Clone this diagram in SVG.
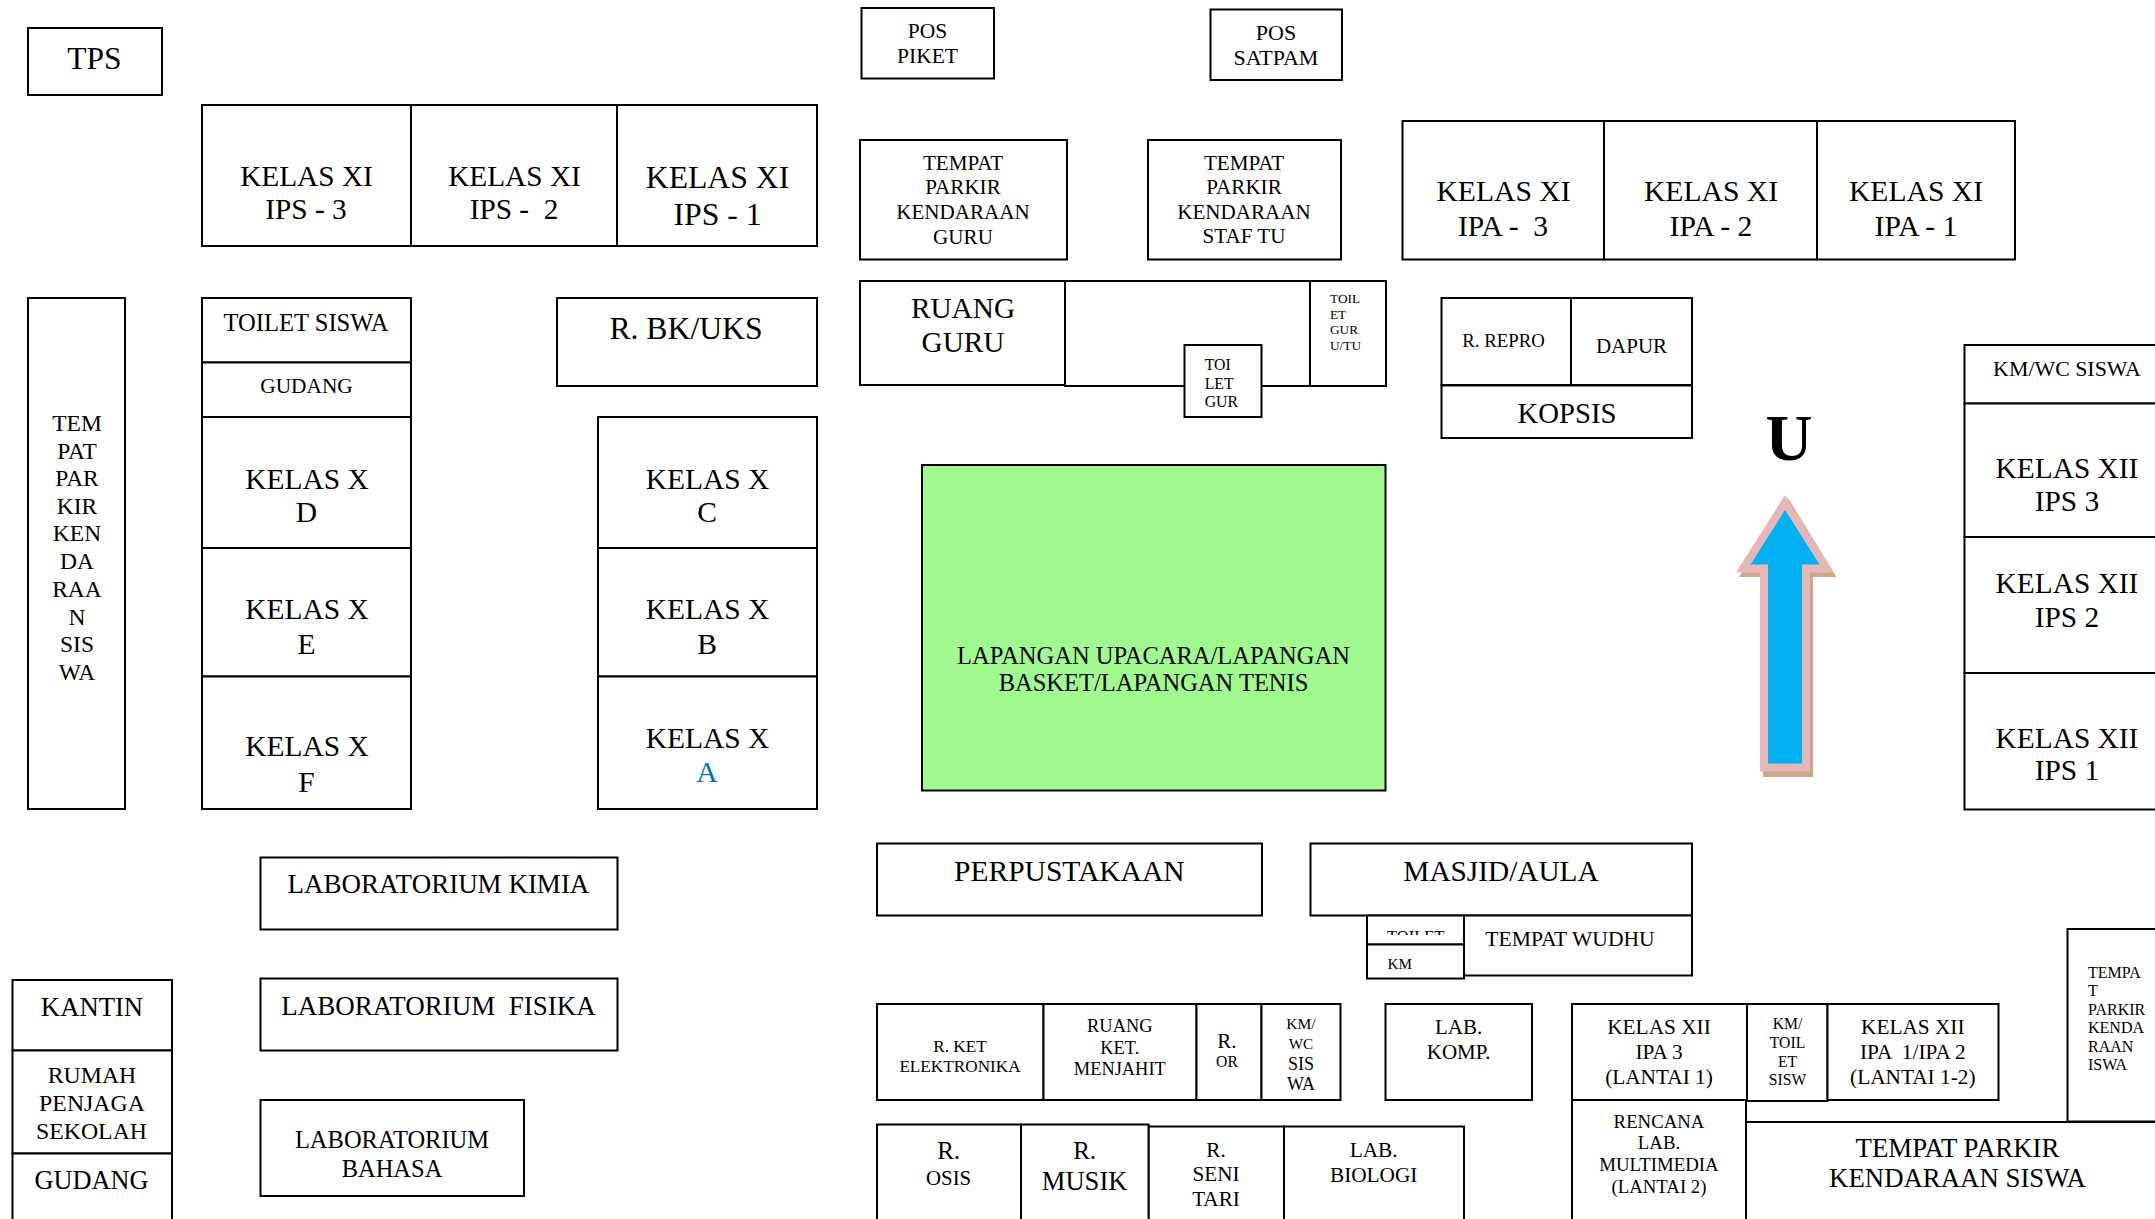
<svg xmlns="http://www.w3.org/2000/svg" width="2155" height="1219" viewBox="0 0 2155 1219">
<style>
rect{fill:#fff;stroke:#000;stroke-width:2}
text{font-family:"Liberation Serif","Times New Roman",serif;fill:#000;text-anchor:middle;white-space:pre}
.l{text-anchor:start}
</style>
<defs><clipPath id="clipToilet"><rect x="1368" y="916" width="95" height="19"/></clipPath></defs>
<rect x="0" y="0" width="2155" height="1219" style="stroke:none"/>
<g id="tps"><rect x="28" y="28" width="134" height="67"/><text x="94.500" y="69" font-size="31.500">TPS</text></g>
<g id="xi-ips-3"><rect x="202" y="105" width="209" height="141"/><text font-size="29.300"><tspan x="306.500" y="186">KELAS XI</tspan><tspan x="306" y="219">IPS - 3</tspan></text></g>
<g id="xi-ips-2"><rect x="411" y="105" width="206" height="141"/><text font-size="29.300"><tspan x="514.500" y="186">KELAS XI</tspan><tspan x="514" y="219">IPS -  2</tspan></text></g>
<g id="xi-ips-1"><rect x="617" y="105" width="200" height="141"/><text font-size="31.700"><tspan x="717.500" y="188">KELAS XI</tspan><tspan x="717.500" y="225">IPS - 1</tspan></text></g>
<g id="parkir-siswa-kiri"><rect x="28" y="298" width="97" height="511"/><text font-size="23.500"><tspan x="77" y="431">TEM</tspan><tspan x="77" y="458.500">PAT</tspan><tspan x="77" y="486">PAR</tspan><tspan x="77" y="513.500">KIR</tspan><tspan x="77" y="541">KEN</tspan><tspan x="77" y="568.500">DA</tspan><tspan x="77" y="596.500">RAA</tspan><tspan x="77" y="625">N</tspan><tspan x="77" y="652">SIS</tspan><tspan x="77" y="680">WA</tspan></text></g>
<g id="toilet-siswa"><rect x="202" y="298" width="209" height="64.500"/><text x="306" y="331" font-size="24.600">TOILET SISWA</text></g>
<g id="gudang-1"><rect x="202" y="362.500" width="209" height="54.500"/><text x="306.500" y="393" font-size="21.300">GUDANG</text></g>
<g id="x-d"><rect x="202" y="417" width="209" height="131"/><text font-size="29.500"><tspan x="307" y="488.500">KELAS X</tspan><tspan x="306.500" y="522">D</tspan></text></g>
<g id="x-e"><rect x="202" y="548" width="209" height="128.500"/><text font-size="29.500"><tspan x="307" y="619">KELAS X</tspan><tspan x="306.500" y="654">E</tspan></text></g>
<g id="x-f"><rect x="202" y="676.500" width="209" height="132.500"/><text font-size="29.500"><tspan x="307" y="756">KELAS X</tspan><tspan x="306.500" y="792">F</tspan></text></g>
<g id="bk-uks"><rect x="557" y="298" width="260" height="88"/><text x="686" y="339" font-size="31.700">R. BK/UKS</text></g>
<g id="x-c"><rect x="598" y="417" width="219" height="131"/><text font-size="29.500"><tspan x="707.500" y="488.500">KELAS X</tspan><tspan x="707" y="522">C</tspan></text></g>
<g id="x-b"><rect x="598" y="548" width="219" height="128.500"/><text font-size="29.500"><tspan x="707.500" y="619">KELAS X</tspan><tspan x="707" y="654">B</tspan></text></g>
<g id="x-a"><rect x="598" y="676.500" width="219" height="132.500"/><text font-size="29.500"><tspan x="707.500" y="748">KELAS X</tspan><tspan x="707" y="781.500" style="fill:#0070c0">A</tspan></text></g>
<g id="pos-piket"><rect x="861.500" y="8" width="132.500" height="70.500"/><text font-size="21.500"><tspan x="927.500" y="37.700">POS</tspan><tspan x="927.500" y="62.700">PIKET</tspan></text></g>
<g id="pos-satpam"><rect x="1210.500" y="9.500" width="131.500" height="70.500"/><text font-size="22"><tspan x="1276" y="40">POS</tspan><tspan x="1276" y="65">SATPAM</tspan></text></g>
<g id="parkir-guru"><rect x="860" y="140" width="207" height="119.500"/><text font-size="21.100"><tspan x="963" y="170">TEMPAT</tspan><tspan x="963" y="194">PARKIR</tspan><tspan x="963" y="219">KENDARAAN</tspan><tspan x="963" y="244">GURU</tspan></text></g>
<g id="parkir-staf"><rect x="1148" y="140" width="193" height="119.500"/><text font-size="21.100"><tspan x="1244" y="170">TEMPAT</tspan><tspan x="1244" y="194">PARKIR</tspan><tspan x="1244" y="219">KENDARAAN</tspan><tspan x="1244" y="243">STAF TU</tspan></text></g>
<g id="xi-ipa-3"><rect x="1402.500" y="121" width="201.500" height="138.500"/><text font-size="29.600"><tspan x="1503.500" y="201">KELAS XI</tspan><tspan x="1503" y="235.500">IPA -  3</tspan></text></g>
<g id="xi-ipa-2"><rect x="1604" y="121" width="213" height="138.500"/><text font-size="29.600"><tspan x="1711" y="201">KELAS XI</tspan><tspan x="1711" y="235.500">IPA - 2</tspan></text></g>
<g id="xi-ipa-1"><rect x="1817" y="121" width="198" height="138.500"/><text font-size="29.600"><tspan x="1916" y="201">KELAS XI</tspan><tspan x="1916" y="235.500">IPA - 1</tspan></text></g>
<g id="ruang-guru"><rect x="860" y="281" width="205" height="104"/><text font-size="29.300"><tspan x="963" y="317.700">RUANG</tspan><tspan x="963" y="351.700">GURU</tspan></text></g>
<g id="ruang-tengah"><rect x="1065" y="281" width="245" height="105"/></g>
<g id="toilet-guru-tu"><rect x="1310" y="281" width="76" height="105"/><text class="l" font-size="13.300"><tspan x="1330" y="302.800">TOIL</tspan><tspan x="1330" y="318.500">ET</tspan><tspan x="1330" y="334">GUR</tspan><tspan x="1330" y="349.500">U/TU</tspan></text></g>
<g id="toilet-guru"><rect x="1184.500" y="345" width="77" height="72"/><text class="l" font-size="15.800"><tspan x="1204.700" y="370">TOI</tspan><tspan x="1204.700" y="389">LET</tspan><tspan x="1204.700" y="407">GUR</tspan></text></g>
<g id="repro"><rect x="1441.500" y="298" width="129.500" height="87"/><text x="1503.500" y="347" font-size="18.800">R. REPRO</text></g>
<g id="dapur"><rect x="1571" y="298" width="121" height="87"/><text x="1631.500" y="353" font-size="21">DAPUR</text></g>
<g id="kopsis"><rect x="1441.500" y="385.500" width="250.500" height="52.500"/><text x="1567" y="422.500" font-size="28.700">KOPSIS</text></g>
<g id="km-wc-siswa"><rect x="1964.500" y="345" width="200" height="58.500"/><text x="2067" y="376" font-size="21.900">KM/WC SISWA</text></g>
<g id="xii-ips-3"><rect x="1964.500" y="403.500" width="200" height="133.500"/><text font-size="29.400"><tspan x="2067" y="477.700">KELAS XII</tspan><tspan x="2067" y="510.700">IPS 3</tspan></text></g>
<g id="xii-ips-2"><rect x="1964.500" y="537" width="200" height="136"/><text font-size="29.400"><tspan x="2067" y="592.700">KELAS XII</tspan><tspan x="2067" y="627.300">IPS 2</tspan></text></g>
<g id="xii-ips-1"><rect x="1964.500" y="673" width="200" height="136.500"/><text font-size="29.400"><tspan x="2067" y="747.700">KELAS XII</tspan><tspan x="2067" y="780.300">IPS 1</tspan></text></g>
<g id="lapangan"><rect x="922" y="465" width="463.500" height="325.500" style="fill:#a0fa90"/><text font-size="24.500"><tspan x="1153.500" y="663.500">LAPANGAN UPACARA/LAPANGAN</tspan><tspan x="1153.500" y="691">BASKET/LAPANGAN TENIS</tspan></text></g>
<g id="utara">
<text x="1789" y="460" font-size="65" font-weight="bold">U</text>
<path d="M1788 498L1836.500 577H1813V777H1763V577H1739Z" fill="#cda78a"/>
<path d="M1785 495L1833.500 572.500H1810V771.500H1760V572.500H1736Z" fill="#e5b8b7"/>
<path d="M1785 510L1819.500 564.500H1802V763.500H1768V564.500H1750.500Z" fill="#00b0f0"/>
</g>
<g id="perpustakaan"><rect x="877" y="843.500" width="385" height="72"/><text x="1069.300" y="881" font-size="29.500">PERPUSTAKAAN</text></g>
<g id="masjid"><rect x="1310.500" y="843.500" width="381.500" height="72"/><text x="1501" y="880.700" font-size="29.300">MASJID/AULA</text></g>
<g id="wudhu"><rect x="1464" y="915.500" width="228" height="60"/><text x="1570" y="945.700" font-size="21.600">TEMPAT WUDHU</text></g>
<g id="toilet-masjid"><rect x="1367" y="915.500" width="97" height="29"/><text class="l" x="1387" y="941.600" font-size="16.500" clip-path="url(#clipToilet)">TOILET</text></g>
<g id="km-masjid"><rect x="1367" y="944.500" width="97" height="34"/><text class="l" x="1387.500" y="968.700" font-size="15.200">KM</text></g>
<g id="lab-kimia"><rect x="260.500" y="857.500" width="357" height="72"/><text x="438.500" y="892.700" font-size="27">LABORATORIUM KIMIA</text></g>
<g id="lab-fisika"><rect x="260.500" y="978.500" width="357" height="72"/><text x="438.500" y="1015" font-size="27">LABORATORIUM  FISIKA</text></g>
<g id="lab-bahasa"><rect x="260.500" y="1100" width="263.500" height="96"/><text font-size="24.500"><tspan x="392" y="1147.700">LABORATORIUM</tspan><tspan x="392" y="1176.500">BAHASA</tspan></text></g>
<g id="kantin"><rect x="12.500" y="980" width="159.500" height="70.500"/><text x="92" y="1015.700" font-size="26.700">KANTIN</text></g>
<g id="rumah-penjaga"><rect x="12.500" y="1050.500" width="159.500" height="103"/><text font-size="23.800"><tspan x="92" y="1083">RUMAH</tspan><tspan x="92" y="1110.500">PENJAGA</tspan><tspan x="91.500" y="1139">SEKOLAH</tspan></text></g>
<g id="gudang-2"><rect x="12.500" y="1153.500" width="159.500" height="80"/><text x="91.500" y="1188.700" font-size="26.300">GUDANG</text></g>
<g id="r-ket"><rect x="877" y="1004" width="166.500" height="96"/><text font-size="17.200"><tspan x="960" y="1052.300">R. KET</tspan><tspan x="960" y="1072.300">ELEKTRONIKA</tspan></text></g>
<g id="r-menjahit"><rect x="1043.500" y="1004" width="153" height="96"/><text font-size="18.400"><tspan x="1119.800" y="1032.300">RUANG</tspan><tspan x="1119.800" y="1053.700">KET.</tspan><tspan x="1119.800" y="1075.300">MENJAHIT</tspan></text></g>
<g id="r-or"><rect x="1196.500" y="1004" width="65" height="96"/><text><tspan x="1227" y="1047.700" font-size="21">R.</tspan><tspan x="1227" y="1066.700" font-size="15.700">OR</tspan></text></g>
<g id="km-wc-sis"><rect x="1261.500" y="1004" width="79" height="96"/><text><tspan x="1301" y="1029.300" font-size="15.500">KM/</tspan><tspan x="1301" y="1048.700" font-size="15.200">WC</tspan><tspan x="1301" y="1070" font-size="18">SIS</tspan><tspan x="1301" y="1090" font-size="18">WA</tspan></text></g>
<g id="lab-komp"><rect x="1385.500" y="1004" width="146.500" height="96"/><text font-size="21"><tspan x="1458.600" y="1034">LAB.</tspan><tspan x="1458.600" y="1059.300">KOMP.</tspan></text></g>
<g id="xii-ipa-3"><rect x="1572" y="1004" width="175" height="96"/><text font-size="21.300"><tspan x="1659" y="1034">KELAS XII</tspan><tspan x="1659" y="1059">IPA 3</tspan><tspan x="1659" y="1084.300">(LANTAI 1)</tspan></text></g>
<g id="km-toilet-siswa"><rect x="1747" y="1004" width="80.500" height="97"/><text font-size="15.700"><tspan x="1787.500" y="1029">KM/</tspan><tspan x="1787.500" y="1048.300">TOIL</tspan><tspan x="1787.500" y="1066.700">ET</tspan><tspan x="1787.500" y="1085">SISW</tspan></text></g>
<g id="xii-ipa-1-2"><rect x="1827.500" y="1004" width="171" height="96"/><text font-size="21.300"><tspan x="1912.800" y="1034">KELAS XII</tspan><tspan x="1912.800" y="1059">IPA  1/IPA 2</tspan><tspan x="1912.800" y="1084.300">(LANTAI 1-2)</tspan></text></g>
<g id="parkir-siswa-kanan"><rect x="2067.500" y="929" width="100" height="192.500"/><text class="l" font-size="16"><tspan x="2088" y="977.700">TEMPA</tspan><tspan x="2088" y="995.700">T</tspan><tspan x="2088" y="1015">PARKIR</tspan><tspan x="2088" y="1032.700">KENDA</tspan><tspan x="2088" y="1052">RAAN</tspan><tspan x="2088" y="1070">ISWA</tspan></text></g>
<g id="parkir-siswa"><rect x="1746" y="1122" width="420" height="110"/><text font-size="26.800"><tspan x="1957.500" y="1156.700">TEMPAT PARKIR</tspan><tspan x="1957.500" y="1186.700">KENDARAAN SISWA</tspan></text></g>
<g id="rencana-multimedia"><rect x="1572" y="1100" width="174" height="130"/><text font-size="18.800"><tspan x="1659" y="1127.700">RENCANA</tspan><tspan x="1659" y="1149">LAB.</tspan><tspan x="1659" y="1170.700">MULTIMEDIA</tspan><tspan x="1659" y="1193">(LANTAI 2)</tspan></text></g>
<g id="r-seni"><rect x="1148.500" y="1126.500" width="135.500" height="105"/><text font-size="21.200"><tspan x="1216" y="1157.300">R.</tspan><tspan x="1216" y="1181.300">SENI</tspan><tspan x="1216" y="1206">TARI</tspan></text></g>
<g id="lab-biologi"><rect x="1284" y="1126.500" width="180" height="105"/><text font-size="21.300"><tspan x="1373.700" y="1157.300">LAB.</tspan><tspan x="1373.700" y="1181.700">BIOLOGI</tspan></text></g>
<g id="r-osis"><rect x="877" y="1124.500" width="144" height="106"/><text><tspan x="948.600" y="1159" font-size="25">R.</tspan><tspan x="948.600" y="1185" font-size="20.800">OSIS</tspan></text></g>
<g id="r-musik"><rect x="1021" y="1124.500" width="127.500" height="106"/><text><tspan x="1084.600" y="1159" font-size="25">R.</tspan><tspan x="1084.600" y="1190" font-size="26.600">MUSIK</tspan></text></g>
</svg>
